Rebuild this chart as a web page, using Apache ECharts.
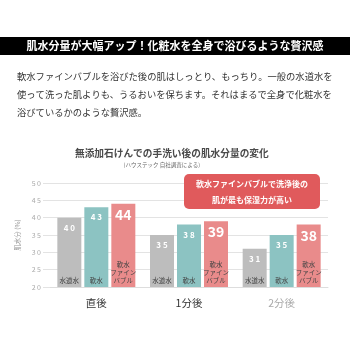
<!DOCTYPE html>
<html>
<head>
<meta charset="utf-8">
<script src="https://cdn.jsdelivr.net/npm/echarts@6/dist/echarts.min.js"></script>
<style>
html,body{margin:0;padding:0;background:#fff;}
#c{width:350px;height:350px;}
</style>
</head>
<body>
<div id="c"></div>
<script>
const categories = ['直後', '1分後', '2分後'];
const categoryColors = ['#333333', '#333333', '#aaaaaa'];
const seriesNames = ['水道水', '軟水', '軟水ファインバブル'];
const bottomLabels = ['水道水', '軟水', '軟水\nファイン\nバブル'];
const tapWater = [40, 35, 31];
const softWater = [43, 38, 35];
const fineBubble = [44, 39, 38];
const yTicks = [20, 25, 30, 35, 40, 45, 50];

const headline = '肌水分量が大幅アップ！化粧水を全身で浴びるような贅沢感';
const bodyLines = [
  '軟水ファインバブルを浴びた後の肌はしっとり、もっちり。一般の水道水を',
  '使って洗った肌よりも、うるおいを保ちます。それはまるで全身で化粧水を',
  '浴びているかのような贅沢感。'
];
const chartTitle = '無添加石けんでの手洗い後の肌水分量の変化';
const chartSubtitle = '(ハウステック 自社調査による)';
const calloutLines = ['軟水ファインバブルで洗浄後の', '肌が最も保湿力が高い'];
const yAxisName = '肌水分 (%)';

const FONT = '"Noto Sans CJK JP", "Noto Sans", sans-serif';
const colors = ['#bdbdbd', '#8cc3c2', '#e98b8b'];
const values = [tapWater, softWater, fineBubble];
const spaced = v => String(v).split('').join(' ');

const chart = echarts.init(document.getElementById('c'), null, {renderer: 'canvas'});

const mainSeries = values.map((d, i) => ({
  name: seriesNames[i],
  type: 'bar',
  xAxisIndex: 0,
  data: d,
  barWidth: 24,
  barGap: '12.5%',
  itemStyle: {color: colors[i]},
  label: i === 2 ? {
    show: true, position: 'insideTop', distance: 4,
    color: '#fff', fontSize: 14, fontWeight: 'bold', fontFamily: FONT,
    formatter: p => String(p.value)
  } : {
    show: true, position: 'insideTop', distance: 6,
    color: '#fff', fontSize: 8, fontWeight: 'bold', fontFamily: FONT,
    formatter: p => spaced(p.value)
  }
}));
const overlaySeries = values.map((d, i) => ({
  name: seriesNames[i] + '_label',
  type: 'bar',
  xAxisIndex: 1,
  data: d,
  barWidth: 24,
  barGap: '12.5%',
  silent: true,
  itemStyle: {color: 'rgba(0,0,0,0)'},
  label: {
    show: true, position: 'insideBottom', distance: 2,
    color: '#444', fontSize: 6.5, lineHeight: 8, fontFamily: FONT,
    formatter: () => bottomLabels[i]
  }
}));

chart.setOption({
  animation: false,
  textStyle: {fontFamily: FONT},
  grid: {left: 50, right: 22, top: 183, bottom: 63},
  xAxis: [{
    type: 'category',
    data: categories.map((c, i) => ({value: c, textStyle: {color: categoryColors[i]}})),
    axisLine: {lineStyle: {color: '#dddddd'}},
    axisTick: {show: false},
    axisLabel: {fontSize: 10.5, margin: 11, fontFamily: FONT}
  }, {
    type: 'category',
    data: categories,
    show: false
  }],
  yAxis: {
    type: 'value', min: yTicks[0], max: yTicks[yTicks.length - 1], interval: 5,
    axisLine: {show: false},
    axisTick: {show: true, length: 7, lineStyle: {color: '#e3e3e3'}},
    splitLine: {lineStyle: {color: '#e3e3e3'}},
    axisLabel: {fontSize: 7, color: '#aaaaaa', margin: 9, formatter: v => spaced(v)},
    name: yAxisName,
    nameLocation: 'middle',
    nameRotate: 90,
    nameGap: 26,
    nameTextStyle: {fontSize: 6.5, color: '#999999'}
  },
  series: mainSeries.concat(overlaySeries),
  graphic: [
    {type: 'rect', shape: {x: 0, y: 37, width: 350, height: 18}, style: {fill: '#000'}},
    {type: 'text', x: 175, y: 46, style: {text: headline, fill: '#fff', font: 'bold 11px ' + FONT, textAlign: 'center', textVerticalAlign: 'middle'}},
    ...bodyLines.map((t, i) => ({type: 'text', x: 17, y: 76 + i * 18, style: {text: t, fill: '#333', font: '9.3px ' + FONT, textAlign: 'left', textVerticalAlign: 'middle'}})),
    {type: 'text', x: 75, y: 153, style: {text: chartTitle, fill: '#4a4a4a', font: 'bold 9.7px ' + FONT, textAlign: 'left', textVerticalAlign: 'middle'}},
    {type: 'text', x: 200, y: 165, style: {text: chartSubtitle, fill: '#666', font: '5.5px ' + FONT, textAlign: 'right', textVerticalAlign: 'middle'}},
    {type: 'rect', z: 10, shape: {x: 184, y: 174, width: 136, height: 35, r: 5}, style: {fill: '#e05a5c'}},
    ...calloutLines.map((t, i) => ({type: 'text', z: 11, x: 252, y: 184 + i * 16, style: {text: t, fill: '#fff', font: 'bold 8px ' + FONT, textAlign: 'center', textVerticalAlign: 'middle'}}))
  ]
});
</script>
</body>
</html>
